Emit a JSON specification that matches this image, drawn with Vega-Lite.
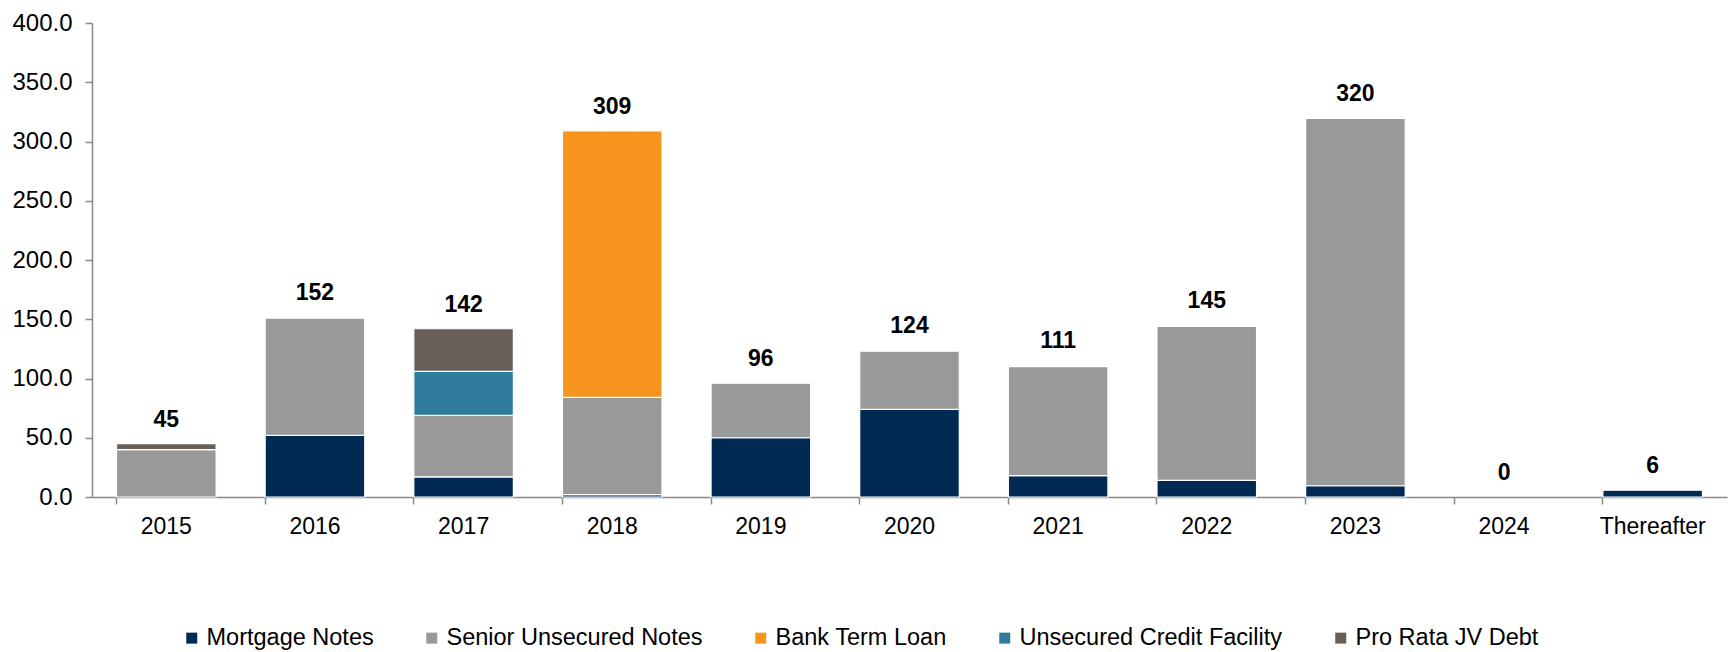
{
  "$schema": "https://vega.github.io/schema/vega-lite/v6.json",
  "autosize": {"type": "none"},
  "width": 1635,
  "height": 474,
  "padding": {"left": 92, "top": 23, "right": 6, "bottom": 155},
  "background": "white",
  "config": {
    "view": {"stroke": null},
    "font": "Liberation Sans"
  },
  "datasets": {
    "debt": [
      {"year": "2015", "type": "Senior Unsecured Notes", "value": 40},
      {"year": "2015", "type": "Pro Rata JV Debt", "value": 5},
      {"year": "2016", "type": "Mortgage Notes", "value": 52},
      {"year": "2016", "type": "Senior Unsecured Notes", "value": 99},
      {"year": "2017", "type": "Mortgage Notes", "value": 17},
      {"year": "2017", "type": "Senior Unsecured Notes", "value": 52},
      {"year": "2017", "type": "Unsecured Credit Facility", "value": 37},
      {"year": "2017", "type": "Pro Rata JV Debt", "value": 36},
      {"year": "2018", "type": "Mortgage Notes", "value": 2},
      {"year": "2018", "type": "Senior Unsecured Notes", "value": 82},
      {"year": "2018", "type": "Bank Term Loan", "value": 225},
      {"year": "2019", "type": "Mortgage Notes", "value": 50},
      {"year": "2019", "type": "Senior Unsecured Notes", "value": 46},
      {"year": "2020", "type": "Mortgage Notes", "value": 74},
      {"year": "2020", "type": "Senior Unsecured Notes", "value": 49},
      {"year": "2021", "type": "Mortgage Notes", "value": 18},
      {"year": "2021", "type": "Senior Unsecured Notes", "value": 92},
      {"year": "2022", "type": "Mortgage Notes", "value": 14},
      {"year": "2022", "type": "Senior Unsecured Notes", "value": 130},
      {"year": "2023", "type": "Mortgage Notes", "value": 9.5},
      {"year": "2023", "type": "Senior Unsecured Notes", "value": 310},
      {"year": "Thereafter", "type": "Mortgage Notes", "value": 5.7}
    ],
    "totals": [
      {"year": "2015", "total": 45},
      {"year": "2016", "total": 152},
      {"year": "2017", "total": 142},
      {"year": "2018", "total": 309},
      {"year": "2019", "total": 96},
      {"year": "2020", "total": 124},
      {"year": "2021", "total": 111},
      {"year": "2022", "total": 145},
      {"year": "2023", "total": 320},
      {"year": "2024", "total": 0},
      {"year": "Thereafter", "total": 6}
    ]
  },
  "encoding": {
    "x": {
      "field": "year",
      "type": "nominal",
      "sort": null,
      "scale": {
        "domain": ["2015", "2016", "2017", "2018", "2019", "2020", "2021", "2022", "2023", "2024", "Thereafter"],
        "paddingInner": 0.33,
        "paddingOuter": 0.165
      },
      "axis": {
        "title": null,
        "labelAngle": 0,
        "labelFont": "Liberation Sans",
        "labelFontSize": 23,
        "labelColor": "#000000",
        "labelPadding": 11,
        "domainColor": "#898989",
        "domainWidth": 1.5,
        "tickColor": "#898989",
        "tickWidth": 1.5,
        "tickSize": 7,
        "bandPosition": 0
      }
    }
  },
  "layer": [
    {
      "data": {"name": "debt"},
      "transform": [
        {"calculate": "indexof(['Mortgage Notes','Senior Unsecured Notes','Bank Term Loan','Unsecured Credit Facility','Pro Rata JV Debt'], datum.type)", "as": "ord"}
      ],
      "mark": {"type": "bar", "stroke": "white", "strokeWidth": 1.2},
      "encoding": {
        "y": {
          "field": "value",
          "type": "quantitative",
          "stack": "zero",
          "scale": {"domain": [0, 400], "nice": false},
          "axis": {
            "title": null,
            "values": [0, 50, 100, 150, 200, 250, 300, 350, 400],
            "format": ".1f",
            "grid": false,
            "labelFont": "Liberation Sans",
            "labelFontSize": 24,
            "labelColor": "#000000",
            "labelPadding": 13,
            "domainColor": "#898989",
            "domainWidth": 1.5,
            "tickColor": "#898989",
            "tickWidth": 1.5,
            "tickSize": 7
          }
        },
        "color": {
          "field": "type",
          "type": "nominal",
          "scale": {
            "domain": ["Mortgage Notes", "Senior Unsecured Notes", "Bank Term Loan", "Unsecured Credit Facility", "Pro Rata JV Debt"],
            "range": ["#002a54", "#999999", "#f7941d", "#2e7b9b", "#686058"]
          },
          "legend": {
            "title": null,
            "orient": "none",
            "legendX": 88,
            "legendY": 603,
            "direction": "horizontal",
            "symbolType": "square",
            "symbolSize": 121,
            "symbolStrokeWidth": 0,
            "labelFont": "Liberation Sans",
            "labelFontSize": 23.5,
            "labelColor": "#000000",
            "labelOffset": 3,
            "labelLimit": 0,
            "columnPadding": 46
          }
        },
        "order": {"field": "ord", "type": "quantitative", "sort": "ascending"}
      }
    },
    {
      "data": {"name": "totals"},
      "mark": {"type": "text", "font": "Liberation Sans", "fontSize": 23, "fontWeight": "bold", "color": "#000000", "baseline": "bottom", "dy": -12},
      "encoding": {
        "y": {"field": "total", "type": "quantitative"},
        "text": {"field": "total", "type": "quantitative", "format": "d"}
      }
    }
  ]
}
